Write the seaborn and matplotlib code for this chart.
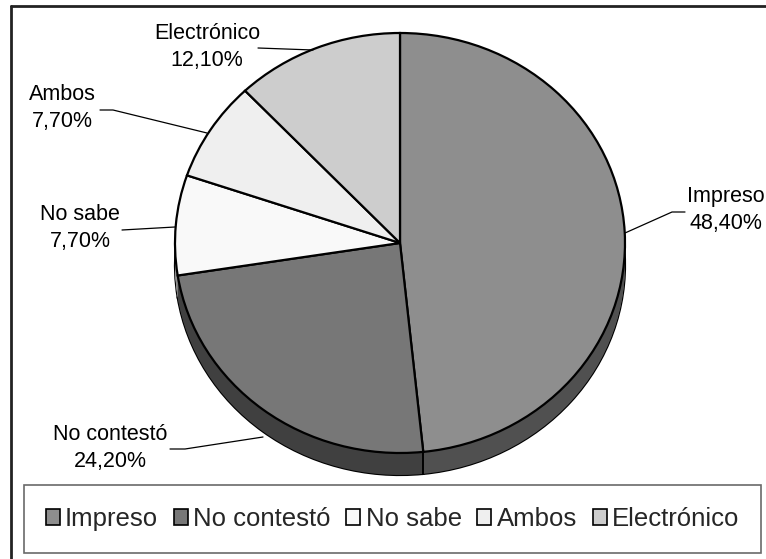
import matplotlib
matplotlib.use("Agg")
import matplotlib.pyplot as plt
import seaborn as sns
import numpy as np
from matplotlib.lines import Line2D

# data
categories = ["Impreso", "No contestó", "No sabe", "Ambos", "Electrónico"]
values = [48.4, 24.2, 7.7, 7.7, 12.1]
pct_labels = ["48,40%", "24,20%", "7,70%", "7,70%", "12,10%"]
top_colors = ["#8e8e8e", "#777777", "#f9f9f9", "#efefef", "#cdcdcd"]
side_colors = ["#505050", "#404040", "#909090", "#888888", "#707070"]

sns.set_theme(style="white")
plt.rcParams["font.family"] = ["Liberation Sans", "DejaVu Sans"]

W, H = 766, 559
fig = plt.figure(figsize=(W / 100, H / 100), dpi=100)

# pie ellipse in pixels: center (400, 243), rx 225, ry 210, depth 22
cx, cy, rx, ry = 400, 243, 225, 210
depth = 22 / ry
ax = fig.add_axes([(cx - rx) / W, (H - cy - ry) / H, 2 * rx / W, 2 * ry / H])

# side of the 3D pie
ax.pie(values, colors=side_colors, startangle=90, counterclock=False,
       center=(0, -depth), radius=1, frame=True,
       wedgeprops=dict(edgecolor="black", linewidth=1.6))
for off in np.linspace(-depth, 0, 25):
    ax.pie(values, colors=side_colors, startangle=90, counterclock=False,
           center=(0, off), radius=1, frame=True,
           wedgeprops=dict(edgecolor="none", linewidth=0))

# top face
wedges, _ = ax.pie(values, colors=top_colors, startangle=90, counterclock=False,
                   center=(0, 0), radius=1, frame=True,
                   wedgeprops=dict(edgecolor="black", linewidth=1.6))
ax.set_aspect("auto")
ax.set_xlim(-1, 1)
ax.set_ylim(-1, 1)
ax.axis("off")
for w in ax.patches:
    w.set_clip_on(False)

# vertical edge where front slices meet
ang = np.deg2rad(90 - 360 * values[0] / sum(values))
ax.plot([np.cos(ang), np.cos(ang)], [np.sin(ang), np.sin(ang) - depth],
        color="black", lw=1.4, clip_on=False)

# labels with leader lines (pixel coordinates)
lab = fig.add_axes([0, 0, 1, 1])
lab.set_xlim(0, W)
lab.set_ylim(H, 0)
lab.axis("off")
lab.patch.set_alpha(0)

label_pos = [(726, 210), (110, 448), (80, 228), (62, 108), (207, 47)]
leaders = [
    [(685, 212), (672, 212), (625, 233)],
    [(170, 449), (185, 449), (263, 437)],
    [(122, 230), (175, 227)],
    [(100, 110), (113, 110), (207, 133)],
    [(258, 48), (313, 50)],
]
for cat, pct, (x, y), pts in zip(categories, pct_labels, label_pos, leaders):
    lab.text(x, y, f"{cat}\n{pct}", ha="center", va="center",
             fontsize=15.5, linespacing=1.35, color="black")
    xs, ys = zip(*pts)
    lab.plot(xs, ys, color="black", lw=0.9)

# outer chart frame (right/bottom edges fall outside the image)
fig.add_artist(Line2D([11 / W, 11 / W], [1 - 6 / H, -0.1], color="#222222", lw=2,
                      transform=fig.transFigure))
fig.add_artist(Line2D([11 / W, 1.1], [1 - 6 / H, 1 - 6 / H], color="#222222", lw=2,
                      transform=fig.transFigure))

leg = fig.legend(wedges, categories, loc="lower left", ncol=5,
                 bbox_to_anchor=(24 / W, 6 / H, (761 - 24) / W, 73 / H),
                 mode="expand", fontsize=18.5, frameon=True, fancybox=False,
                 edgecolor="#444444", handlelength=0.55, handleheight=0.55,
                 handletextpad=0.2, columnspacing=0.3, borderpad=0.85,
                 borderaxespad=0)
leg.get_frame().set_linewidth(1.2)
for h in leg.legend_handles:
    h.set_edgecolor("black")
    h.set_linewidth(1.2)

fig.savefig("out.png", dpi=100)
